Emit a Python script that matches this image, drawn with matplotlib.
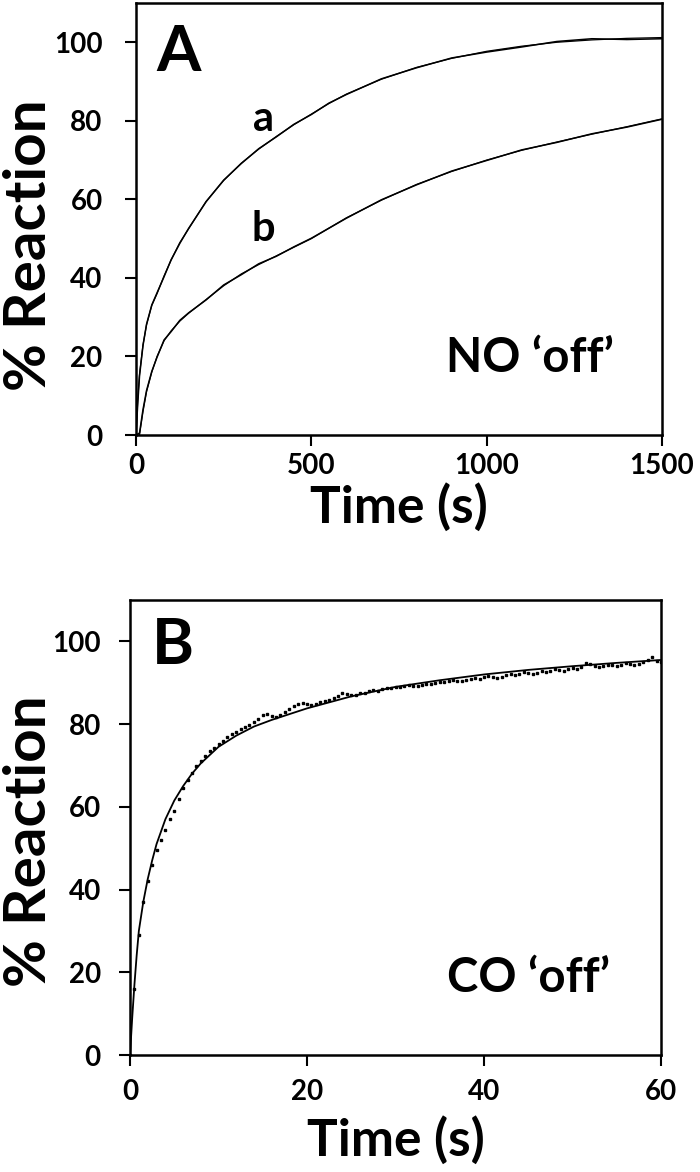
import numpy as np
import matplotlib
matplotlib.use("Agg")
import matplotlib.pyplot as plt

plt.rcParams['font.family'] = ['Lato', 'DejaVu Sans']
plt.rcParams['font.weight'] = 'bold'

# ---------------- Panel A data (NO 'off') ----------------
time_a = [0, 5, 10, 20, 30, 45, 60, 80, 100, 125, 150, 200, 250, 300, 350, 400, 450, 500,
          550, 600, 700, 800, 900, 1000, 1100, 1200, 1300, 1400, 1500]
fit_a = [0, 9, 15.5, 23, 28, 33, 36, 40.5, 44.5, 49, 52.5, 59.5, 64.8, 69.2, 72.8, 76, 79, 81.7,
         84.4, 86.8, 90.6, 93.6, 95.9, 97.7, 99.0, 100.0, 100.6, 101.0, 101.2]
data_a = [0, 8, 15, 22.8, 28.2, 33.1, 36.2, 40.3, 44.6, 48.8, 52.6, 59.4, 64.9, 69.1, 72.9, 75.9, 79.1, 81.6,
          84.5, 86.7, 90.7, 93.5, 96.0, 97.5, 98.8, 100.2, 100.9, 100.7, 100.9]

time_b = [0, 10, 20, 30, 45, 60, 80, 100, 125, 150, 200, 250, 300, 350, 400, 450, 500,
          600, 700, 800, 900, 1000, 1100, 1200, 1300, 1400, 1500]
fit_b = [0, 0, 6, 11, 16, 20, 24, 26.5, 29, 31, 34.5, 38, 41, 43.4, 45.6, 47.8, 50,
         55.3, 59.8, 63.8, 67.1, 70, 72.5, 74.6, 76.6, 78.5, 80.5]
data_b = [0, 0.5, 6.5, 11.3, 16.2, 19.8, 24.2, 26.3, 29.2, 31.1, 34.4, 38.2, 40.8, 43.6, 45.5, 47.9, 50.1,
          55.2, 59.9, 63.7, 67.2, 69.9, 72.6, 74.5, 76.7, 78.4, 80.4]

# ---------------- Panel B data (CO 'off') ----------------
time_fit_co = [0, 0.25, 0.5, 0.75, 1, 1.5, 2, 2.5, 3, 4, 5, 6, 7, 8, 10, 12, 14, 16,
               20, 25, 30, 35, 40, 45, 50, 55, 60]
fit_co = [0, 9, 17, 24, 30, 37, 42.5, 47, 51, 57, 61.5, 65, 68, 70.5, 74.5, 77.2, 79.4, 81,
          83.8, 86.7, 89, 90.6, 92, 93.1, 94, 94.8, 95.5]

time_data_co = np.arange(0, 60.5, 0.5)
data_co = [0, 16, 29, 37, 42, 46, 49.5, 52, 54.5, 57, 59, 62, 64.5, 66.5, 68.2, 69.8,
           71, 72.3, 73.4, 74.3, 75.3, 76, 76.8, 77.5, 78, 78.8, 79.3, 79.8, 80.5, 81.3,
           82.2, 82.5, 82, 81.8, 82.3, 83, 83.6, 84.3, 84.8, 85, 84.8, 84.6, 84.9, 85.3,
           85.5, 85.8, 86.2, 86.9, 87.4, 87.3, 87, 87.1, 87.4, 87.6, 87.9, 88.3, 88.1,
           88.4, 88.7, 88.8, 89, 88.9, 89.2, 89.5, 89.3, 89.1, 89.4, 89.7, 89.6, 89.9,
           90.2, 90.1, 90.4, 90.7, 90.5, 90.3, 90.6, 90.9, 91.2, 91.0, 91.3, 91.6, 91.5,
           91.2, 91.4, 91.8, 92.1, 91.9, 92.2, 92.5, 92.3, 92.1, 92.4, 92.8, 92.6, 92.9,
           93.3, 93.1, 92.9, 93.2, 93.5, 93.3, 93.7, 94.8, 94.5, 94.0, 93.8, 94.1, 94.4,
           94.2, 94.0, 94.3, 94.7, 94.5, 94.3, 94.6, 95.0, 95.4, 96.2, 95.3, 95.0]

yticks = [0, 20, 40, 60, 80, 100]
xticks_a = [0, 500, 1000, 1500]
xticks_b = [0, 20, 40, 60]

W, H = 700, 1172
fig = plt.figure(figsize=(W / 100, H / 100), dpi=100)

def px_axes(l, t, r, b):
    return fig.add_axes([l / W, 1 - b / H, (r - l) / W, (b - t) / H])

axA = px_axes(136, 3, 662, 435)
axB = px_axes(130, 600, 661, 1055)

TICK_FS = 20
XLABEL_FS = 37
YLABEL_FS = 42

for ax in (axA, axB):
    for s in ax.spines.values():
        s.set_linewidth(1.8)
        s.set_color('black')
    ax.tick_params(direction='out', length=8, width=1.5, labelsize=TICK_FS)
    ax.tick_params(axis='x', pad=5)
    ax.set_ylim(0, 110)
    ax.set_yticks(yticks)
    ax.set_yticklabels([str(v) for v in yticks], fontweight='bold')
    ax.set_ylabel('% Reaction', fontsize=YLABEL_FS, fontweight='bold')
    ax.set_xlabel('Time (s)', fontsize=XLABEL_FS, fontweight='bold')

axA.tick_params(axis='y', pad=16)
axB.tick_params(axis='y', pad=13)
axB.tick_params(axis='x', pad=9)

# Panel A
axA.plot(time_a, data_a, color='black', lw=1.1)
axA.plot(time_a, fit_a, color='black', lw=0.9)
axA.plot(time_b, data_b, color='black', lw=1.1)
axA.plot(time_b, fit_b, color='black', lw=0.9)
axA.set_xlim(0, 1500)
axA.set_xticks(xticks_a)
axA.set_xticklabels([str(v) for v in xticks_a], fontweight='bold')
axA.yaxis.set_label_coords(-0.152, 0.44)
axA.xaxis.set_label_coords(0.5, -0.11)
axA.text(0.08, 0.885, 'A', transform=axA.transAxes, fontsize=46, fontweight='bold',
         ha='center', va='center')
axA.text(363, 80.5, 'a', fontsize=30, fontweight='bold', ha='center', va='center')
axA.text(363, 52.5, 'b', fontsize=30, fontweight='bold', ha='center', va='center')
axA.text(1123, 19.5, 'NO \u2018off\u2019', fontsize=34, fontweight='bold', ha='center', va='center')

# Panel B
axB.plot(time_data_co, data_co, linestyle='none', marker='s', ms=1.8, color='black')
axB.plot(time_fit_co, fit_co, color='black', lw=1.3)
axB.set_xlim(0, 60)
axB.set_xticks(xticks_b)
axB.set_xticklabels([str(v) for v in xticks_b], fontweight='bold')
axB.yaxis.set_label_coords(-0.139, 0.47)
axB.xaxis.set_label_coords(0.5, -0.135)
axB.text(0.08, 0.9, 'B', transform=axB.transAxes, fontsize=46, fontweight='bold',
         ha='center', va='center')
axB.text(45, 18.5, 'CO \u2018off\u2019', fontsize=34, fontweight='bold', ha='center', va='center')

fig.savefig('out.png', dpi=100)
